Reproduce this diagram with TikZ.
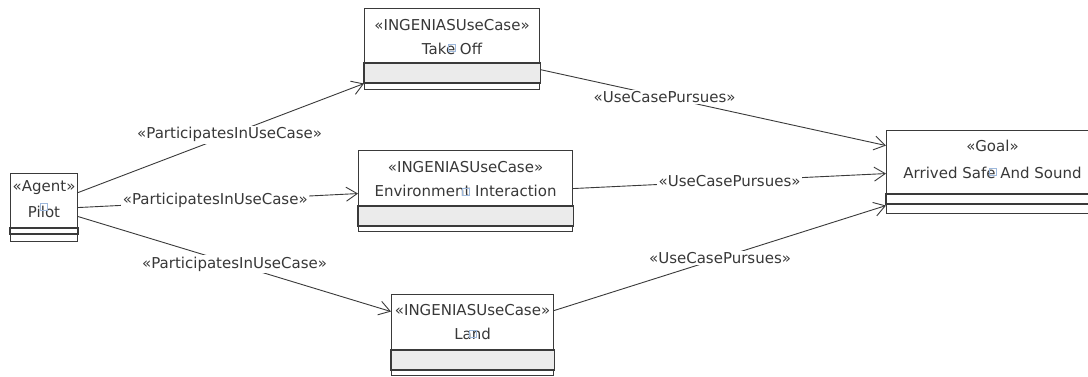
\documentclass[tikz,border=0pt]{standalone}
\usepackage{fontspec}
\newfontfamily\umlfont{DejaVu Sans}
\usetikzlibrary{arrows.meta}
\definecolor{linec}{HTML}{3A3A3A}
\definecolor{txtc}{HTML}{383838}
\definecolor{compc}{HTML}{EBEBEB}
\definecolor{iconc}{HTML}{9DB8DC}
\begin{document}
\begin{tikzpicture}[x=1pt,y=-1pt,
  box/.style={draw=linec,line width=1.1pt,fill=white,inner sep=0pt,anchor=north west},
  comp/.style={draw=linec,line width=1.1pt},
  txt/.style={text=txtc,inner sep=0pt,font=\umlfont\fontsize{15}{18}\selectfont},
  lbl/.style={txt,fill=white,inner sep=1.5pt},
  icon/.style={draw=iconc,line width=0.8pt,minimum size=7pt,inner sep=0pt},
  rel/.style={draw=linec,line width=0.9pt,-{Straight Barb[length=11pt,width=14pt]}}]
\clip (0,0) rectangle (1088,376);
\fill[white] (0,0) rectangle (1088,376);

\node[box,minimum width=67pt,minimum height=68pt] (pilot) at (10,173) {};
\draw[comp] ([yshift=-55pt]pilot.north west) rectangle ([yshift=-61pt]pilot.north east);
\node[txt] (pilotst) at ([yshift=-15pt]pilot.north) {«Agent»};
\node[txt] (pilotnm) at ([yshift=-39pt]pilot.north) {Pilot};
\node[icon] (pilotic) at ([yshift=5pt]pilotnm.center) {};

\node[box,minimum width=175pt,minimum height=81pt] (takeoff) at (364,8) {};
\draw[comp,fill=compc] ([yshift=-55pt]takeoff.north west) rectangle ([yshift=-75pt]takeoff.north east);
\node[txt] (takeoffst) at ([yshift=-17pt]takeoff.north) {«INGENIASUseCase»};
\node[txt] (takeoffnm) at ([yshift=-41pt]takeoff.north) {Take Off};
\node[icon] (takeoffic) at ([yshift=1pt]takeoffnm.center) {};

\node[box,minimum width=214pt,minimum height=81pt] (env) at (358,150) {};
\draw[comp,fill=compc] ([yshift=-56pt]env.north west) rectangle ([yshift=-76pt]env.north east);
\node[txt] (envst) at ([yshift=-17pt]env.north) {«INGENIASUseCase»};
\node[txt] (envnm) at ([yshift=-41pt]env.north) {Environment Interaction};
\node[icon] (envic) at ([yshift=-1pt]envnm.center) {};

\node[box,minimum width=162pt,minimum height=81pt] (land) at (391,294) {};
\draw[comp,fill=compc] ([yshift=-56pt]land.north west) rectangle ([yshift=-76pt]land.north east);
\node[txt] (landst) at ([yshift=-16pt]land.north) {«INGENIASUseCase»};
\node[txt] (landnm) at ([yshift=-40pt]land.north) {Land};
\node[icon] (landic) at ([yshift=0pt]landnm.center) {};

\node[box,minimum width=212pt,minimum height=83pt] (goal) at (886,130) {};
\draw[comp] ([yshift=-64pt]goal.north west) rectangle ([yshift=-74pt]goal.north east);
\node[txt] (goalst) at ([yshift=-16pt]goal.north) {«Goal»};
\node[txt] (goalnm) at ([yshift=-43pt]goal.north) {Arrived Safe And Sound};
\node[icon] (goalic) at ([yshift=1pt]goalnm.center) {};

\draw[rel] ([yshift=15pt]pilot.east) -- node[lbl,pos=0.53] (pt1) {«ParticipatesInUseCase»} ([yshift=-34.5pt]takeoff.west);
\draw[rel] (pilot.east) -- node[lbl,pos=0.49] (pt2) {«ParticipatesInUseCase»} ([yshift=-2.5pt]env.west);
\draw[rel] ([yshift=-9pt]pilot.east) -- node[lbl,pos=0.5] (pt3) {«ParticipatesInUseCase»} ([yshift=23.5pt]land.west);
\draw[rel] ([yshift=-20.5pt]takeoff.east) -- node[lbl,pos=0.36] (pu1) {«UseCasePursues»} ([yshift=26.5pt]goal.west);
\draw[rel] ([yshift=2.5pt]env.east) -- node[lbl,pos=0.5] (pu2) {«UseCasePursues»} ([yshift=-1.5pt]goal.west);
\draw[rel] ([yshift=24.5pt]land.east) -- node[lbl,pos=0.5] (pu3) {«UseCasePursues»} ([yshift=-33.5pt]goal.west);
\end{tikzpicture}
\end{document}
